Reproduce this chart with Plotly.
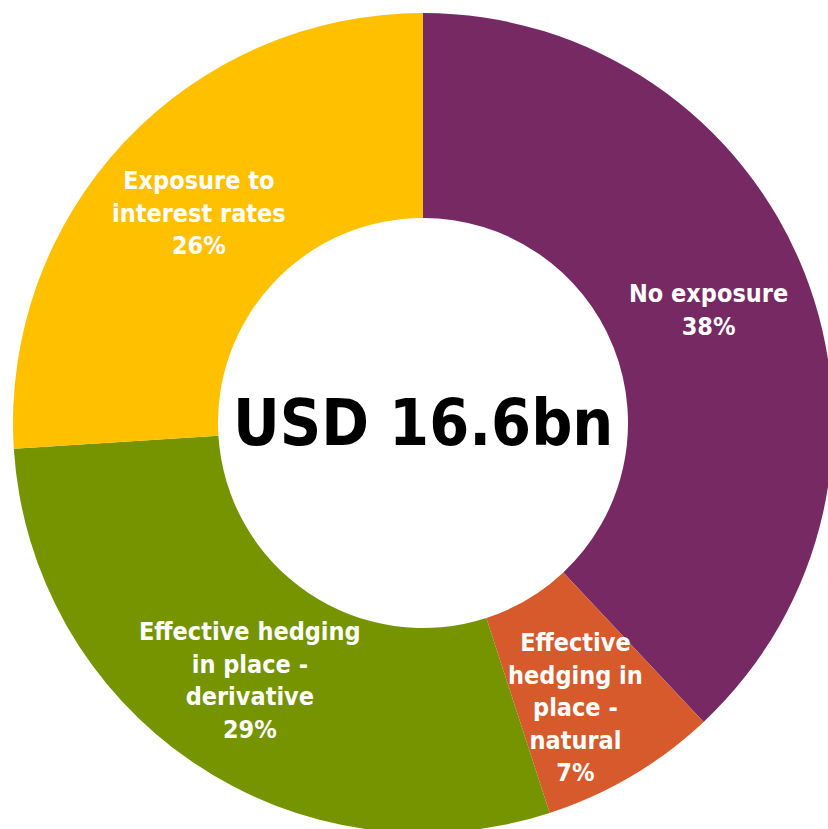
import math
import plotly.graph_objects as go

# Breakdown of the USD 16.6bn debt portfolio by interest-rate exposure
categories = [
    "No exposure",
    "Effective hedging in place - natural",
    "Effective hedging in place - derivative",
    "Exposure to interest rates",
]
shares = [38, 7, 29, 26]
slice_text = [
    "No exposure<br>38%",
    "Effective<br>hedging in<br>place -<br>natural<br>7%",
    "Effective hedging<br>in place -<br>derivative<br>29%",
    "Exposure to<br>interest rates<br>26%",
]
colors = ["#772963", "#D65A2C", "#759400", "#FFC000"]
center_label = "USD 16.6bn"

W = H = 846
CX = CY = 423
R = 410
HOLE = 0.5

FONT = "DejaVu Sans Condensed, DejaVu Sans, sans-serif"

fig = go.Figure(
    go.Pie(
        labels=categories,
        values=shares,
        sort=False,
        direction="clockwise",
        rotation=0,
        hole=HOLE,
        marker=dict(colors=colors, line=dict(width=0)),
        textinfo="none",
        hoverinfo="label+percent",
        showlegend=False,
        domain=dict(x=[(CX - R) / W, (CX + R) / W], y=[1 - (CY + R) / H, 1 - (CY - R) / H]),
    )
)

# Labels sit around the middle of the ring, at each slice's mid angle
radial = [0.75, 0.79, 0.75, 0.75]
xshift = [0, -12, 0, 0]
yshift = [0, -6, -3, 0]
total = sum(shares)
cum = 0
annotations = []
for i, v in enumerate(shares):
    mid = (cum + v / 2) / total * 2 * math.pi
    cum += v
    r = R * radial[i]
    px = CX + r * math.sin(mid)
    py = CY - r * math.cos(mid)
    annotations.append(
        dict(
            x=px / W, y=1 - py / H, xref="paper", yref="paper",
            xanchor="center", yanchor="middle",
            text=slice_text[i], showarrow=False, align="center",
            xshift=xshift[i], yshift=yshift[i],
            font=dict(family=FONT, size=25, color="white", weight="bold"),
        )
    )

annotations.append(
    dict(
        x=CX / W, y=1 - CY / H, xref="paper", yref="paper",
        xanchor="center", yanchor="middle",
        text=center_label, showarrow=False,
        font=dict(family=FONT, size=64, color="black", weight="bold"),
    )
)

fig.update_layout(
    width=W, height=H, autosize=False,
    margin=dict(l=0, r=0, t=0, b=0),
    paper_bgcolor="white", plot_bgcolor="white",
    annotations=annotations,
)

fig.write_html(
    "out.html",
    post_script="document.documentElement.style.overflow='hidden';document.body.style.overflow='hidden';document.body.style.margin='0';",
)
